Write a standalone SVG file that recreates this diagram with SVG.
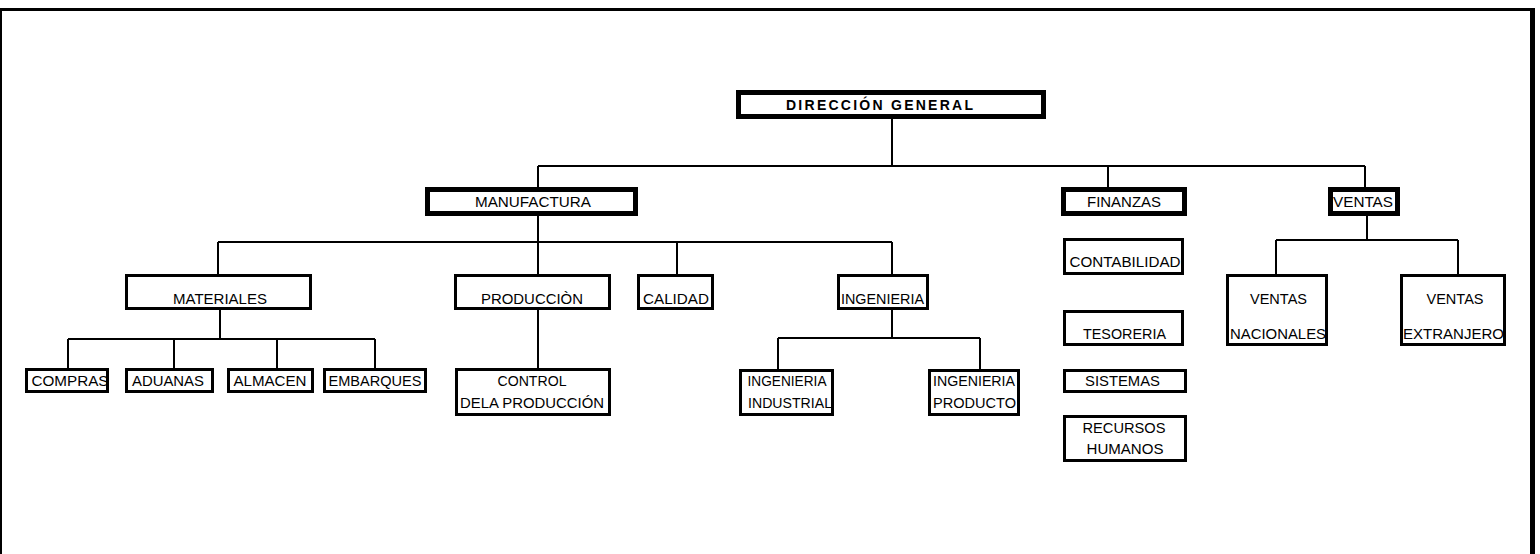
<svg xmlns="http://www.w3.org/2000/svg" width="1540" height="554" viewBox="0 0 1540 554">
<style>
.thick{fill:#fff;stroke:#000;stroke-width:5}
.thin{fill:#fff;stroke:#000;stroke-width:3}
text{font-family:"Liberation Sans",Arial,sans-serif;font-size:15px;fill:#000;text-anchor:middle}
.title{font-weight:bold;font-size:14px}
#connectors path{fill:none;stroke:#000;stroke-width:2}
</style>
<rect x="0" y="0" width="1540" height="554" fill="#fff"/>
<g id="frame" fill="none" stroke="#000">
<path d="M0,9.5 H1535" stroke-width="3"/>
<path d="M1,8 V554" stroke-width="2"/>
<path d="M1532.5,8 V554" stroke-width="5"/>
</g>
<g id="connectors">
<path d="M892,119 V166 M538,166 H1365 M538,166 V187 M1108,166 V187 M1365,166 V187"/>
<path d="M538,216 V274 M218,242 H892 M218,242 V274 M677,242 V274 M892,242 V274"/>
<path d="M220,310 V339 M68,339 H375 M68,339 V368 M174,339 V368 M277,339 V368 M375,339 V368"/>
<path d="M538,310 V368"/>
<path d="M892,310 V338 M778,338 H980 M778,338 V369 M980,338 V369"/>
<path d="M1367,216 V240 M1276,240 H1458 M1276,240 V274 M1458,240 V274"/>
</g>
<g id="n-direccion"><rect class="thick" x="738.5" y="92.5" width="305" height="24"/><text class="title" x="879.5" y="109.5" textLength="187" lengthAdjust="spacing">DIRECCIÓN GENERAL</text></g>
<g id="n-manufactura"><rect class="thick" x="427.5" y="189.5" width="208" height="24"/><text x="533" y="207" textLength="116" lengthAdjust="spacingAndGlyphs">MANUFACTURA</text></g>
<g id="n-finanzas"><rect class="thick" x="1063.5" y="189.5" width="121" height="24"/><text x="1124" y="207" textLength="74" lengthAdjust="spacingAndGlyphs">FINANZAS</text></g>
<g id="n-ventas"><rect class="thick" x="1330.5" y="189.5" width="67" height="24"/><text x="1363" y="207" textLength="60" lengthAdjust="spacingAndGlyphs">VENTAS</text></g>
<g id="n-materiales"><rect class="thin" x="126.5" y="275.5" width="184" height="33"/><text x="220" y="304" textLength="94" lengthAdjust="spacingAndGlyphs">MATERIALES</text></g>
<g id="n-produccion"><rect class="thin" x="455.5" y="275.5" width="154" height="33"/><text x="532" y="304" textLength="102" lengthAdjust="spacingAndGlyphs">PRODUCCIÒN</text></g>
<g id="n-calidad"><rect class="thin" x="638.5" y="275.5" width="74" height="33"/><text x="676" y="304" textLength="66" lengthAdjust="spacingAndGlyphs">CALIDAD</text></g>
<g id="n-ingenieria"><rect class="thin" x="838.5" y="275.5" width="89" height="33"/><text x="882.5" y="304" textLength="83" lengthAdjust="spacingAndGlyphs">INGENIERIA</text></g>
<g id="n-compras"><rect class="thin" x="26.5" y="369.5" width="81" height="22"/><text x="70" y="386" textLength="77" lengthAdjust="spacingAndGlyphs">COMPRAS</text></g>
<g id="n-aduanas"><rect class="thin" x="126.5" y="369.5" width="86" height="22"/><text x="168" y="386" textLength="72" lengthAdjust="spacingAndGlyphs">ADUANAS</text></g>
<g id="n-almacen"><rect class="thin" x="228.5" y="369.5" width="84" height="22"/><text x="270" y="386" textLength="73" lengthAdjust="spacingAndGlyphs">ALMACEN</text></g>
<g id="n-embarques"><rect class="thin" x="324.5" y="369.5" width="101" height="22"/><text x="375" y="386" textLength="93" lengthAdjust="spacingAndGlyphs">EMBARQUES</text></g>
<g id="n-control"><rect class="thin" x="456.5" y="369.5" width="153" height="45"/><text x="532" y="386" textLength="69" lengthAdjust="spacingAndGlyphs">CONTROL</text><text x="532" y="408" textLength="144" lengthAdjust="spacingAndGlyphs">DELA PRODUCCIÓN</text></g>
<g id="n-ing-industrial"><rect class="thin" x="740.5" y="370.5" width="92" height="44"/><text x="787" y="386" textLength="79" lengthAdjust="spacingAndGlyphs">INGENIERIA</text><text x="790" y="408" textLength="84" lengthAdjust="spacingAndGlyphs">INDUSTRIAL</text></g>
<g id="n-ing-producto"><rect class="thin" x="929.5" y="370.5" width="89" height="44"/><text x="974" y="386" textLength="82" lengthAdjust="spacingAndGlyphs">INGENIERIA</text><text x="974.5" y="408" textLength="83" lengthAdjust="spacingAndGlyphs">PRODUCTO</text></g>
<g id="n-contabilidad"><rect class="thin" x="1064.5" y="239.5" width="118" height="34"/><text x="1125" y="267" textLength="111" lengthAdjust="spacingAndGlyphs">CONTABILIDAD</text></g>
<g id="n-tesoreria"><rect class="thin" x="1064.5" y="311.5" width="118" height="33"/><text x="1124.5" y="339" textLength="83" lengthAdjust="spacingAndGlyphs">TESORERIA</text></g>
<g id="n-sistemas"><rect class="thin" x="1064.5" y="370.5" width="121" height="21"/><text x="1122.5" y="386" textLength="75" lengthAdjust="spacingAndGlyphs">SISTEMAS</text></g>
<g id="n-rrhh"><rect class="thin" x="1064.5" y="416.5" width="121" height="44"/><text x="1124" y="432.7" textLength="83" lengthAdjust="spacingAndGlyphs">RECURSOS</text><text x="1125" y="454" textLength="77" lengthAdjust="spacingAndGlyphs">HUMANOS</text></g>
<g id="n-ventas-nac"><rect class="thin" x="1227.5" y="275.5" width="99" height="69"/><text x="1278.5" y="304" textLength="57" lengthAdjust="spacingAndGlyphs">VENTAS</text><text x="1278" y="339" textLength="96" lengthAdjust="spacingAndGlyphs">NACIONALES</text></g>
<g id="n-ventas-ext"><rect class="thin" x="1401.5" y="275.5" width="103" height="69"/><text x="1455" y="304" textLength="57" lengthAdjust="spacingAndGlyphs">VENTAS</text><text x="1453.5" y="339" textLength="101" lengthAdjust="spacingAndGlyphs">EXTRANJERO</text></g>
</svg>
